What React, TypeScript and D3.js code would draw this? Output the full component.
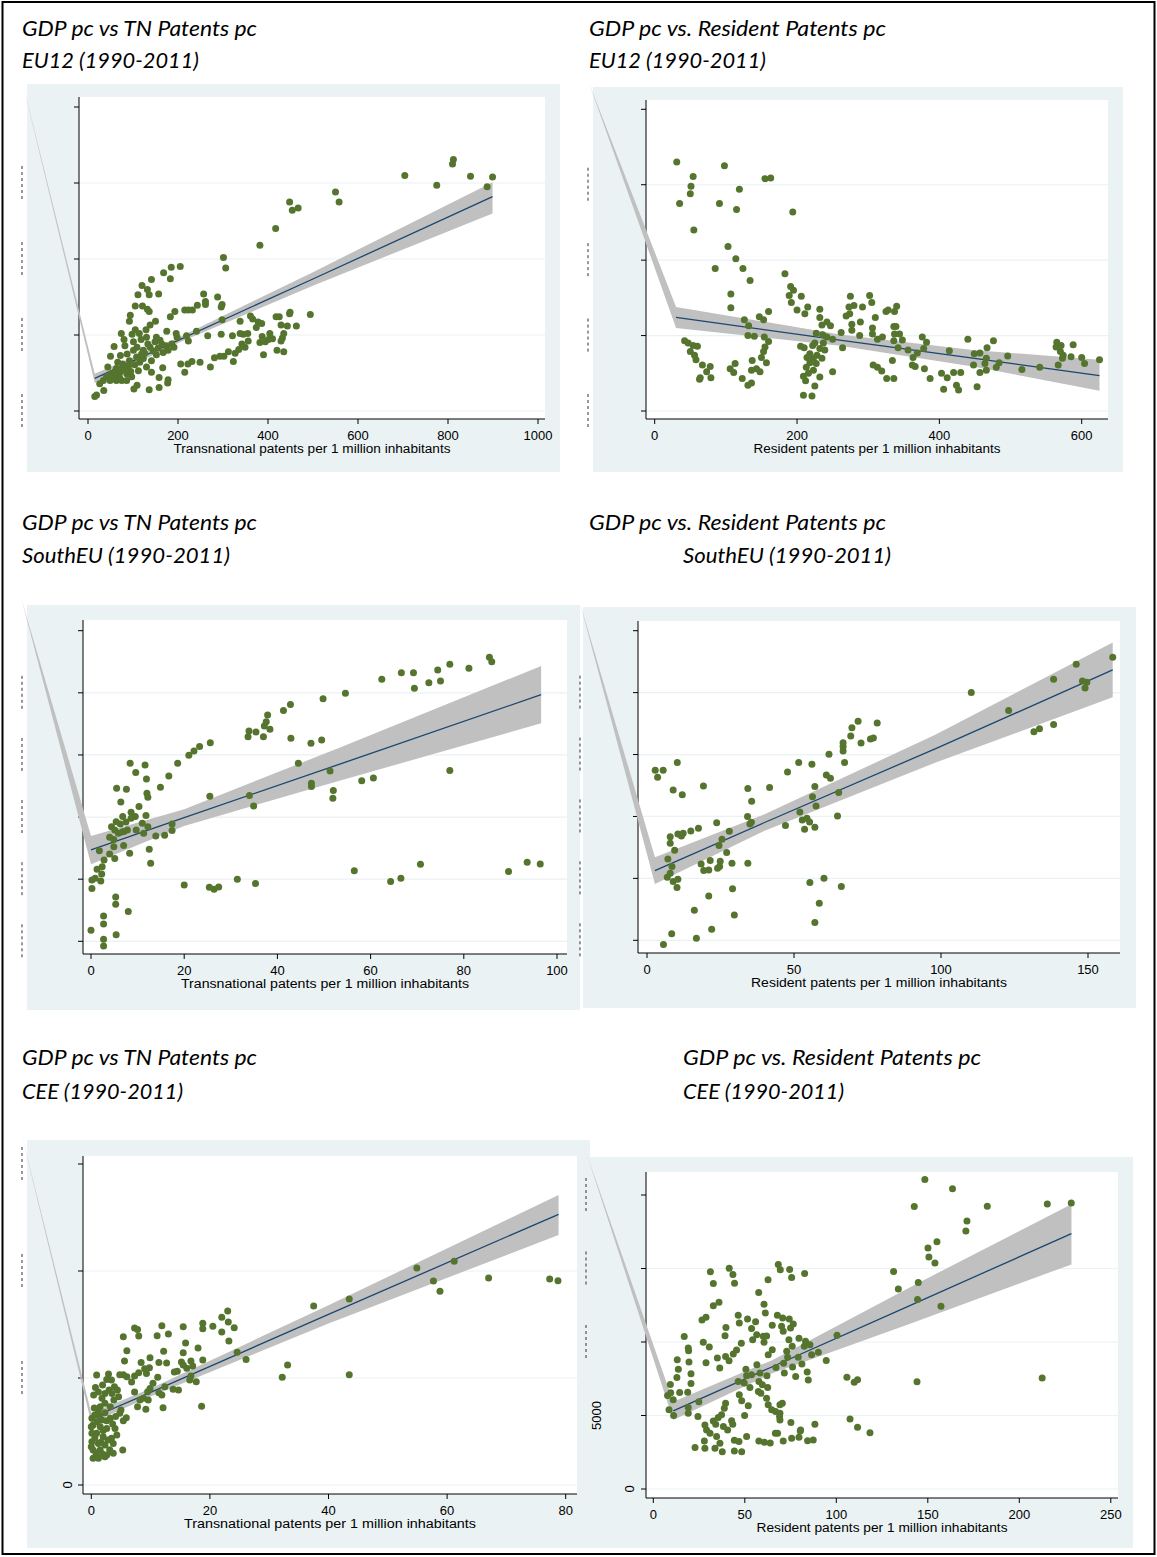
import * as d3 from "d3";

type Pt = [number, number];
// x, fitted value, lower 95% bound, upper 95% bound (GDP pc in thousands)
type FitRow = [number, number, number, number];

// ---------- text ----------
const chartTitles = [
  ["GDP pc vs TN Patents pc", "EU12 (1990-2011)"],
  ["GDP pc vs. Resident Patents pc", "EU12 (1990-2011)"],
  ["GDP pc vs TN Patents pc", "SouthEU (1990-2011)"],
  ["GDP pc vs. Resident Patents pc", "SouthEU (1990-2011)"],
  ["GDP pc vs TN Patents pc", "CEE (1990-2011)"],
  ["GDP pc vs. Resident Patents pc", "CEE (1990-2011)"],
];
const xTitleTn = "Transnational patents per 1 million inhabitants";
const xTitleRes = "Resident patents per 1 million inhabitants";

// ---------- ticks ----------
const eu12TnXTicks = [0, 200, 400, 600, 800, 1000];
const eu12ResXTicks = [0, 200, 400, 600];
const southTnXTicks = [0, 20, 40, 60, 80, 100];
const southResXTicks = [0, 50, 100, 150];
const ceeTnXTicks = [0, 20, 40, 60, 80];
const ceeResXTicks = [0, 50, 100, 150, 200, 250];
const eu12YTicks = [10, 20, 30, 40, 50];
const southYTicks = [10, 15, 20, 25, 30, 35];
const ceeTnYTicks = [0, 10, 20, 30];
const ceeResYTicks = [0, 5, 10, 15, 20];

// ---------- data: [patents pc, GDP pc (thousands)] ----------
const eu12TnPts: Pt[] = [
  [812, 43.1], [810, 42.5], [704, 41.0], [775, 39.7], [850, 40.9], [899, 40.8], [887, 39.5],
  [550, 38.8], [558, 37.5], [448, 37.5], [454, 36.4], [467, 36.7], [417, 34.0], [382, 31.8],
  [301, 30.2], [306, 28.8],
  [494, 22.7], [449, 23.0], [448, 22.8], [425, 22.4], [418, 22.4], [463, 21.2], [443, 21.2],
  [429, 21.3], [435, 20.2], [432, 19.6], [429, 19.2], [404, 20.2], [410, 19.5], [401, 19.4],
  [382, 19.0], [387, 19.8], [394, 19.1], [390, 17.4], [420, 18.0], [435, 17.8], [378, 21.7],
  [386, 21.5], [374, 21.0], [361, 22.5], [366, 22.1], [338, 21.8], [355, 20.2], [345, 20.1],
  [338, 20.2], [356, 19.2], [349, 18.4], [342, 18.8], [335, 18.1], [321, 19.9], [327, 17.6],
  [312, 17.8], [323, 16.5], [302, 17.2], [293, 17.2], [281, 17.0], [272, 15.8], [298, 22.0],
  [296, 20.1], [266, 19.9], [249, 16.4], [231, 16.5], [222, 16.2], [206, 16.2], [215, 15.1],
  [298, 24.0], [296, 23.7], [288, 25.0], [261, 24.4], [261, 24.0], [257, 25.4], [243, 23.9],
  [232, 23.3], [223, 23.3], [215, 23.3], [193, 23.1], [183, 22.4], [241, 20.5], [219, 19.9],
  [223, 19.2], [196, 20.2], [191, 18.4], [175, 20.5],
  [205, 29.0], [185, 28.9], [183, 27.4], [168, 28.2], [141, 27.3], [120, 26.5], [132, 26.0],
  [111, 25.3], [136, 25.3], [157, 25.4], [105, 23.8], [121, 23.8], [132, 23.4], [136, 23.1],
  [94, 22.6], [92, 21.8], [150, 21.8], [138, 21.3], [129, 20.7], [105, 20.7], [114, 20.2],
  [98, 20.1], [74, 20.2], [80, 19.4], [58, 18.5], [50, 17.2], [44, 15.8], [82, 18.6],
  [101, 19.1], [109, 18.4], [123, 18.0], [138, 18.4], [149, 19.1], [160, 19.3], [173, 18.6],
  [186, 18.8], [198, 19.7], [167, 17.7], [152, 17.4], [141, 16.6], [123, 16.9], [108, 17.1],
  [92, 16.6], [77, 16.2], [63, 15.6], [52, 14.9], [41, 14.5], [34, 14.0], [26, 13.6],
  [71, 15.1], [86, 14.9], [97, 14.5], [112, 15.3], [130, 15.8], [141, 15.1], [158, 14.4],
  [166, 15.7], [178, 14.1], [177, 13.7], [158, 13.1], [136, 12.8], [109, 13.4], [102, 12.9],
  [63, 14.0], [56, 14.5], [35, 12.7], [19, 12.1], [15, 11.9], [78, 15.6], [101, 18.0],
  [119, 17.5], [130, 19.7], [152, 19.7], [164, 18.8], [178, 18.0], [75, 14.0], [86, 14.0],
  [49, 14.0], [67, 14.7], [60, 15.2], [70, 14.4], [83, 15.4], [90, 15.9], [95, 15.2],
  [104, 16.1], [115, 16.4], [126, 17.6], [145, 17.9], [156, 18.3], [72, 17.3], [66, 16.4],
  [87, 17.5], [118, 19.4], [133, 18.8],
];

const eu12ResPts: Pt[] = [
  [31, 43.0], [98, 42.5], [54, 41.1], [51, 39.8], [50, 38.8], [35, 37.5], [91, 37.5],
  [115, 36.7], [119, 39.4], [155, 40.8], [163, 40.9], [194, 36.4], [55, 34.0], [103, 31.8],
  [114, 30.2], [85, 28.9], [124, 28.9], [134, 27.3], [183, 28.2], [191, 26.5], [195, 26.0],
  [189, 25.3], [206, 25.2], [192, 24.4], [200, 23.4], [211, 22.9], [215, 23.8], [107, 25.5],
  [107, 23.7], [126, 22.1], [132, 21.3], [131, 20.0], [140, 19.9], [147, 22.5], [153, 22.1],
  [160, 23.2], [154, 19.8], [160, 19.2], [155, 18.5], [153, 17.9], [150, 17.1], [157, 16.4],
  [137, 16.7], [143, 15.6], [148, 15.2], [136, 15.4], [113, 16.3], [106, 15.6], [111, 15.1],
  [123, 14.3], [131, 13.4], [136, 13.7], [42, 19.3], [47, 19.0], [54, 18.7], [60, 18.6],
  [50, 17.9], [56, 17.4], [58, 16.8], [67, 16.1], [78, 15.9], [73, 15.2], [64, 14.4],
  [79, 14.4], [63, 14.2], [232, 23.5], [232, 22.4], [235, 21.4], [242, 21.8], [247, 21.3],
  [227, 20.3], [236, 20.1], [242, 19.8], [250, 19.5], [225, 19.0], [237, 19.0], [222, 18.7],
  [205, 18.6], [210, 18.4], [232, 18.3], [239, 18.1], [218, 17.6], [228, 17.4], [214, 17.1],
  [223, 17.0], [235, 17.0], [218, 16.4], [227, 16.3], [213, 15.8], [223, 15.4], [216, 15.0],
  [209, 14.6], [212, 14.0], [232, 14.5], [250, 15.2], [225, 13.3], [209, 12.1], [221, 12.0],
  [264, 18.4], [262, 20.4], [269, 22.6], [274, 22.9], [273, 23.8], [280, 24.0], [275, 25.2],
  [292, 23.8], [302, 25.3], [305, 24.4], [289, 21.8], [277, 21.5], [277, 20.7], [288, 20.0],
  [306, 21.0], [306, 20.2], [313, 19.5], [320, 19.8], [310, 22.4], [325, 23.2], [328, 23.4],
  [337, 23.2], [340, 23.9], [336, 21.2], [339, 21.2], [337, 20.2], [344, 20.2], [348, 19.4],
  [336, 19.3], [342, 18.4], [356, 18.1], [369, 17.7], [363, 17.1], [362, 16.1], [366, 15.9],
  [379, 15.6], [387, 14.3], [376, 19.8], [382, 19.1], [378, 18.3], [307, 16.1], [313, 15.8],
  [319, 15.3], [326, 14.3], [336, 14.3], [334, 16.7], [414, 18.0], [403, 15.0], [406, 12.9],
  [411, 14.4], [420, 15.1], [430, 15.1], [424, 13.4], [427, 12.8], [440, 19.5], [449, 17.6],
  [457, 17.7], [467, 18.4], [476, 19.3], [466, 17.0], [464, 16.3], [466, 15.4], [448, 16.1],
  [457, 15.1], [453, 13.2], [484, 16.4], [480, 15.8], [496, 17.3], [516, 15.5], [541, 15.8],
  [565, 19.1], [564, 18.5], [571, 18.7], [570, 17.9], [574, 17.4], [573, 17.0], [567, 16.1],
  [585, 17.2], [588, 18.8], [600, 17.1], [604, 16.3], [625, 16.8],
];

const southTnPts: Pt[] = [
  [85.5, 32.86], [86.0, 32.51], [81.1, 31.97], [77.0, 32.29], [74.4, 31.84], [69.2, 31.62],
  [66.6, 31.62], [69.4, 30.36], [72.5, 30.82], [75.0, 30.95], [62.4, 31.09], [54.6, 29.96],
  [49.8, 29.53], [42.8, 29.05], [41.3, 28.57], [37.9, 28.22], [37.6, 27.68], [37.2, 27.33],
  [38.4, 27.06], [37.0, 26.47], [35.4, 26.85], [33.9, 26.93], [33.7, 26.47], [42.9, 26.34],
  [49.5, 26.21], [47.2, 25.94], [25.6, 25.99], [23.3, 25.67], [22.1, 25.32], [21.0, 24.97],
  [18.6, 24.33], [16.7, 23.31], [14.9, 22.4], [11.6, 24.19], [9.6, 23.58], [8.4, 24.33],
  [11.9, 23.07], [12.0, 21.91], [12.2, 21.59], [10.3, 20.84], [5.5, 22.32], [7.6, 22.24],
  [6.4, 21.22], [8.6, 20.39], [9.5, 20.04], [11.8, 20.12], [6.8, 20.04], [6.3, 19.45],
  [7.1, 18.83], [9.7, 18.96], [11.0, 19.5], [11.3, 18.7], [12.2, 19.23], [13.9, 18.48],
  [15.8, 18.54], [17.4, 18.91], [17.4, 19.45], [12.5, 17.41], [12.8, 16.28], [8.3, 17.09],
  [7.0, 17.71], [5.1, 18.96], [5.4, 19.63], [4.4, 19.23], [4.0, 18.37], [4.9, 17.62],
  [4.0, 17.03], [5.1, 16.66], [1.8, 17.28], [2.8, 16.55], [2.4, 16.01], [1.3, 15.8],
  [2.3, 15.42], [2.1, 14.86], [0.9, 15.07], [0.2, 14.94], [0.2, 14.24], [5.3, 13.57],
  [5.3, 12.98], [8.0, 12.39], [2.7, 12.04], [2.7, 11.4], [0.0, 10.89], [2.7, 10.17],
  [2.7, 9.63], [5.4, 10.52], [20.0, 14.54], [25.4, 14.35], [26.4, 14.19], [27.4, 14.38],
  [31.4, 15.0], [35.3, 14.65], [56.5, 15.67], [64.3, 14.81], [66.5, 15.08], [70.7, 16.2],
  [77.0, 23.74], [58.1, 22.93], [60.6, 23.15], [51.3, 23.71], [52.0, 22.13], [51.9, 21.51],
  [44.5, 24.33], [47.3, 22.72], [47.3, 22.45], [34.0, 21.73], [34.9, 20.9], [25.5, 21.67],
  [89.6, 15.61], [93.6, 16.36], [96.4, 16.23], [5.9, 18.7], [4.9, 18.2], [6.7, 18.8],
  [7.8, 18.96], [8.6, 19.9], [7.5, 19.6],
];

const southResPts: Pt[] = [
  [158.4, 32.85], [146.0, 32.29], [148.1, 30.94], [149.6, 30.83], [149.0, 30.38], [138.3, 31.08],
  [110.3, 30.0], [123.0, 28.55], [131.6, 26.85], [133.5, 27.09], [138.3, 27.42], [71.8, 27.68],
  [69.7, 27.17], [78.3, 27.55], [69.3, 26.5], [72.8, 25.94], [76.0, 26.26], [77.0, 26.34],
  [66.7, 25.96], [66.7, 25.64], [66.7, 25.29], [61.9, 25.02], [67.2, 24.35], [56.1, 24.21],
  [51.6, 24.35], [47.8, 23.59], [61.0, 23.35], [62.4, 23.08], [57.1, 22.41], [65.2, 21.93],
  [56.3, 21.6], [57.5, 20.85], [52.0, 20.37], [52.8, 19.72], [54.4, 19.85], [55.3, 19.56],
  [53.6, 18.97], [57.1, 19.13], [64.8, 20.04], [47.1, 19.26], [41.7, 22.33], [34.3, 22.25],
  [35.6, 21.23], [34.2, 19.99], [35.5, 19.53], [35.0, 19.4], [23.7, 19.5], [28.0, 18.8],
  [25.5, 18.16], [24.5, 17.65], [27.1, 17.08], [28.9, 16.22], [24.9, 16.38], [24.7, 15.95],
  [24.0, 15.82], [21.5, 16.44], [21.0, 15.68], [19.3, 15.63], [18.4, 16.17], [17.5, 19.05],
  [14.9, 18.83], [12.3, 18.64], [11.7, 18.43], [10.5, 18.59], [7.9, 18.37], [7.9, 17.84],
  [9.4, 17.27], [7.1, 16.57], [8.5, 15.95], [7.9, 15.41], [6.9, 15.09], [8.9, 14.74],
  [10.5, 14.93], [10.2, 14.26], [2.8, 23.73], [5.5, 23.73], [3.6, 23.16], [10.3, 24.35],
  [8.9, 22.14], [12.0, 21.76], [19.2, 22.46], [34.3, 16.22], [21.0, 13.58], [29.1, 14.17],
  [16.1, 12.43], [29.7, 12.05], [22.0, 10.89], [8.4, 10.52], [16.8, 10.17], [5.6, 9.66],
  [55.4, 14.66], [60.2, 15.01], [66.1, 14.34], [58.6, 12.99], [57.1, 11.43],
];

const ceeTnPts: Pt[] = [
  [77.3, 19.25], [78.7, 19.09], [67.0, 19.34], [61.2, 20.9], [54.9, 20.28], [57.7, 19.06],
  [58.8, 18.1], [43.5, 17.38], [37.5, 16.73], [43.5, 10.31], [33.1, 11.21], [32.2, 10.06],
  [26.1, 11.74], [24.6, 12.4], [18.6, 7.35],
  [23.0, 16.26], [22.0, 15.67], [23.1, 15.23], [24.1, 14.7], [22.0, 14.3], [23.2, 13.45],
  [20.5, 14.83], [18.8, 15.11], [18.8, 14.61], [15.5, 14.79], [11.9, 14.89], [13.0, 14.11],
  [11.1, 13.95], [8.0, 13.92], [7.3, 14.67], [7.8, 14.54], [5.4, 13.86], [15.9, 13.27],
  [18.0, 12.8], [15.5, 12.36], [12.2, 12.49], [6.0, 12.55], [9.9, 11.9], [11.4, 11.46],
  [12.7, 11.4], [18.8, 11.68], [15.2, 11.49], [15.5, 11.21], [16.8, 11.59], [17.1, 11.12],
  [16.1, 10.9], [8.4, 11.46], [5.6, 11.59], [9.0, 10.87], [14.0, 10.56], [14.5, 10.62],
  [16.8, 10.18], [17.7, 9.65], [16.6, 9.81], [9.8, 10.96], [9.3, 10.43], [8.0, 10.5],
  [7.3, 10.18], [6.8, 9.62], [6.0, 10.12], [5.4, 10.31], [4.8, 10.31], [11.2, 10.06],
  [10.4, 9.5], [12.4, 9.19], [14.7, 8.88], [13.8, 8.94], [9.9, 9.03], [9.5, 8.72],
  [11.4, 8.63], [11.9, 8.41], [7.3, 8.69], [8.2, 7.94], [8.8, 8.1], [9.6, 7.94], [7.8, 7.32],
  [9.2, 7.07], [12.1, 7.22], [5.0, 7.01], [5.4, 6.01], [5.9, 6.29], [5.3, 3.27],
  [2.9, 10.37], [0.9, 10.28], [0.7, 9.12], [1.9, 9.34], [2.6, 9.87], [3.4, 9.81], [3.9, 9.19],
  [4.4, 8.88], [3.5, 8.56], [3.0, 8.88], [2.3, 8.56], [3.8, 7.94], [4.6, 8.25], [3.2, 7.32],
  [2.3, 7.63], [1.5, 7.32], [1.2, 7.01], [2.3, 6.76], [3.2, 6.23], [1.8, 6.07], [0.6, 6.54],
  [0.1, 6.23], [0.3, 5.61], [1.5, 5.45], [2.6, 5.29], [4.0, 5.29], [4.3, 4.67], [3.4, 4.36],
  [2.0, 4.51], [0.9, 4.83], [0.1, 4.83], [0.1, 4.05], [1.2, 3.89], [2.3, 3.74], [3.7, 3.89],
  [3.7, 2.96], [2.6, 2.8], [1.5, 3.27], [0.3, 3.27], [0.3, 2.49], [1.2, 2.49], [2.3, 2.65],
  [0.0, 3.58], [0.0, 5.45], [4.8, 6.7], [1.8, 8.1], [0.5, 7.2], [1.0, 5.9], [2.0, 5.1],
  [0.6, 4.4], [1.6, 4.0], [2.8, 4.2], [0.8, 3.0], [1.9, 2.9], [3.1, 3.3], [1.4, 6.5],
  [2.6, 6.0], [3.6, 5.7], [0.4, 8.4], [1.2, 8.7], [4.1, 6.4],
];

const ceeResPts: Pt[] = [
  [148.4, 21.05], [163.5, 20.42], [142.6, 19.21], [182.5, 19.23], [215.3, 19.39], [228.4, 19.46],
  [171.4, 18.23], [170.8, 17.55], [155.0, 16.82], [150.1, 16.39], [150.6, 15.78], [153.9, 15.37],
  [131.3, 14.8], [144.8, 14.05], [133.9, 13.6], [144.4, 12.89], [157.2, 12.44], [100.4, 10.46],
  [94.5, 8.75], [105.8, 7.61], [109.8, 7.27], [111.6, 7.43], [144.1, 7.3], [212.5, 7.55],
  [107.5, 4.77], [111.6, 4.2], [118.4, 3.82],
  [31.2, 14.78], [41.5, 15.01], [43.5, 14.6], [32.8, 13.98], [44.4, 14.0], [68.3, 15.28],
  [69.4, 14.91], [74.5, 14.94], [75.6, 14.39], [82.7, 14.66], [62.7, 14.23], [57.6, 13.37],
  [60.5, 12.57], [61.2, 11.98], [35.9, 12.71], [32.8, 12.46], [28.8, 11.68], [26.6, 11.5],
  [39.7, 10.98], [39.2, 10.43], [46.4, 11.82], [47.0, 11.3], [51.5, 11.57], [55.9, 11.37],
  [53.7, 10.91], [56.5, 10.5], [54.3, 10.16], [60.1, 10.39], [60.5, 9.98], [61.9, 10.41],
  [67.8, 11.82], [70.7, 11.64], [74.3, 11.57], [76.5, 11.23], [65.0, 11.14], [70.1, 11.07],
  [71.0, 10.73], [75.0, 10.96], [79.6, 10.25], [74.1, 10.16], [83.2, 10.05], [85.6, 9.82],
  [82.5, 9.71], [86.5, 9.14], [90.2, 9.3], [75.9, 9.71], [72.9, 9.37], [73.4, 8.96],
  [79.2, 8.96], [81.2, 8.5], [76.1, 8.3], [71.2, 8.55], [67.0, 8.27], [71.6, 7.89],
  [77.8, 7.66], [84.1, 7.96], [84.7, 7.41], [65.0, 9.48], [62.8, 9.14], [48.1, 9.91],
  [45.5, 9.46], [43.7, 9.18], [41.4, 8.73], [39.5, 9.02], [35.0, 8.91], [36.3, 8.23],
  [28.8, 8.59], [27.3, 9.98], [30.6, 9.66], [16.9, 10.37], [19.1, 9.59], [19.3, 9.41],
  [13.1, 8.8], [13.7, 8.14], [19.5, 8.64], [20.6, 7.84], [12.9, 7.59], [20.6, 7.18],
  [9.3, 7.11], [18.8, 6.59], [14.4, 6.57], [9.5, 6.55], [7.8, 6.36], [10.9, 6.07], [8.6, 5.39],
  [11.1, 5.0], [19.1, 5.55], [19.1, 5.16], [24.9, 5.93], [24.4, 4.93], [56.6, 8.46],
  [50.6, 8.14], [53.7, 7.77], [58.3, 7.89], [62.1, 7.71], [51.0, 7.71], [46.4, 7.32],
  [49.7, 7.21], [52.8, 6.91], [57.7, 7.32], [59.6, 7.09], [62.5, 6.91], [57.4, 6.64],
  [58.8, 6.52], [47.0, 6.41], [48.3, 6.0], [51.9, 5.66], [49.9, 5.0], [61.9, 6.18],
  [62.8, 5.73], [64.7, 5.39], [66.8, 5.27], [69.2, 5.73], [70.5, 5.84], [69.0, 4.93],
  [69.2, 4.7], [75.2, 4.52], [80.5, 4.02], [88.3, 4.41], [39.5, 5.84], [38.8, 5.5],
  [37.3, 5.05], [35.5, 4.86], [32.8, 4.63], [34.1, 4.41], [42.8, 4.64], [43.4, 4.41],
  [38.3, 4.25], [40.6, 4.02], [28.2, 4.36], [29.1, 4.02], [31.0, 3.79], [34.6, 3.57],
  [36.4, 3.11], [33.7, 2.77], [37.7, 2.54], [27.9, 3.27], [28.2, 2.77], [22.8, 2.82],
  [44.3, 3.32], [46.8, 3.23], [44.3, 2.59], [48.3, 2.54], [51.0, 3.57], [57.7, 3.27],
  [60.7, 3.18], [63.9, 3.13], [66.7, 3.79], [67.9, 3.79], [71.0, 3.27], [75.6, 3.45],
  [80.3, 3.95], [79.6, 3.52], [84.3, 3.29], [87.4, 3.34], [69.2, 5.16],
];

// ---------- linear fit with 95% CI ----------
const eu12TnFit: FitRow[] = [[15, 14.3, 13.7, 14.9], [204, 19.4, 19.05, 19.75], [501, 27.4, 26.5, 28.3], [899, 38.2, 36.0, 40.1]];
const eu12ResFit: FitRow[] = [[30, 22.4, 21.0, 23.8], [260, 19.4, 18.65, 20.15], [447, 17.0, 15.9, 18.1], [625, 14.7, 12.7, 16.8]];
const southTnFit: FitRow[] = [[0, 17.35, 16.2, 18.48], [20, 19.96, 19.29, 20.63], [53.7, 24.3, 22.96, 25.64], [96.6, 29.85, 27.55, 32.16]];
const southResFit: FitRow[] = [[2.7, 15.63, 14.55, 16.71], [39.8, 19.49, 18.82, 20.16], [98.2, 25.48, 24.35, 26.61], [158.4, 31.83, 29.62, 34.04]];
const ceeTnFit: FitRow[] = [[0, 6.26, 5.8, 6.73], [10, 8.65, 8.28, 9.02], [40, 15.95, 15.1, 16.8], [78.8, 25.3, 23.36, 27.1]];
const ceeResFit: FitRow[] = [[10.9, 5.32, 4.7, 5.94], [64.7, 8.3, 7.85, 8.75], [141.1, 12.53, 11.28, 13.78], [228.5, 17.37, 15.28, 19.37]];

// ---------- layout (pixels) ----------
const panels = [
  {
    pts: eu12TnPts, fit: eu12TnFit, xTicks: eu12TnXTicks, yTicks: eu12YTicks, xTitle: xTitleTn, titles: chartTitles[0],
    bg: [27, 84, 533, 388], plot: [79, 97, 545, 419], xr: [88, 538], yr: [411, 107],
    apex: [22, 80], dashX: 22, hidden: [10, 20, 30, 40], shown: [] as [number, number][],
    t1: [22, 36, 235], t2: [22, 68, 177], xTitleW: 277,
  },
  {
    pts: eu12ResPts, fit: eu12ResFit, xTicks: eu12ResXTicks, yTicks: eu12YTicks, xTitle: xTitleRes, titles: chartTitles[1],
    bg: [593, 87, 530, 385], plot: [646, 100, 1108, 419], xr: [654.7, 1081.7], yr: [411, 109.3],
    apex: [589, 83], dashX: 588, hidden: [10, 20, 30, 40], shown: [] as [number, number][],
    t1: [589, 36, 297], t2: [589, 68, 177], xTitleW: 247,
  },
  {
    pts: southTnPts, fit: southTnFit, xTicks: southTnXTicks, yTicks: southYTicks, xTitle: xTitleTn, titles: chartTitles[2],
    bg: [27, 605, 553, 405], plot: [83, 620, 567, 954], xr: [91, 557], yr: [941.3, 630.7],
    apex: [22, 601], dashX: 22, hidden: [10, 15, 20, 25, 30], shown: [] as [number, number][],
    t1: [22, 530, 235], t2: [22, 563, 208], xTitleW: 288,
  },
  {
    pts: southResPts, fit: southResFit, xTicks: southResXTicks, yTicks: southYTicks, xTitle: xTitleRes, titles: chartTitles[3],
    bg: [583, 607, 553, 401], plot: [638, 621, 1120, 953], xr: [647, 1088], yr: [940.3, 630.7],
    apex: [580, 603], dashX: 580, hidden: [10, 15, 20, 25, 30], shown: [] as [number, number][],
    t1: [589, 530, 297], t2: [683, 563, 208], xTitleW: 256,
  },
  {
    pts: ceeTnPts, fit: ceeTnFit, xTicks: ceeTnXTicks, yTicks: ceeTnYTicks, xTitle: xTitleTn, titles: chartTitles[4],
    bg: [27, 1140, 563, 408], plot: [83, 1156, 577, 1494], xr: [91.3, 565.7], yr: [1485, 1164],
    apex: [22, 1136], dashX: 22, hidden: [10, 20, 30], shown: [[0, 71.5]] as [number, number][],
    t1: [22, 1065, 235], t2: [22, 1099, 161], xTitleW: 292,
  },
  {
    pts: ceeResPts, fit: ceeResFit, xTicks: ceeResXTicks, yTicks: ceeResYTicks, xTitle: xTitleRes, titles: chartTitles[5],
    bg: [590, 1157, 543, 391], plot: [646, 1172, 1118, 1498], xr: [653.3, 1110.8], yr: [1489, 1195],
    apex: [587, 1155], dashX: 586, hidden: [10, 15, 20], shown: [[0, 633.5], [5, 600.5]] as [number, number][],
    t1: [683, 1065, 298], t2: [683, 1099, 161], xTitleW: 251,
  },
];

const BG = "#eaf2f3";
const DOT = "#55752f";
const LINE = "#1a476f";
const BAND = "#c0c0c0";
const AXIS_FONT = "'Liberation Sans', Arial, sans-serif";
const TITLE_FONT = "Lato, 'Open Sans', sans-serif";

function Panel({ p }: { p: (typeof panels)[number] }) {
  const xs = p.xTicks;
  const ys = p.yTicks;
  const x = d3.scaleLinear().domain([xs[0], xs[xs.length - 1]]).range(p.xr);
  const y = d3.scaleLinear().domain([ys[0], ys[ys.length - 1]]).range(p.yr);
  const [l, t, r, b] = p.plot;

  const upper = p.fit.map((d) => [x(d[0]), y(d[3])] as [number, number]);
  const lower = p.fit.map((d) => [x(d[0]), y(d[2])] as [number, number]).reverse();
  const band = d3.line()([p.apex as [number, number], ...upper, ...lower]) + "Z";
  const fitLine = d3.line()(p.fit.map((d) => [x(d[0]), y(d[1])] as [number, number]));

  return (
    <g>
      <text x={p.t1[0]} y={p.t1[1]} textLength={p.t1[2]} lengthAdjust="spacingAndGlyphs"
        fontFamily={TITLE_FONT} fontStyle="italic" fontSize={21} fill="#000">{p.titles[0]}</text>
      <text x={p.t2[0]} y={p.t2[1]} textLength={p.t2[2]} lengthAdjust="spacingAndGlyphs"
        fontFamily={TITLE_FONT} fontStyle="italic" fontSize={21} fill="#000">{p.titles[1]}</text>

      <rect x={p.bg[0]} y={p.bg[1]} width={p.bg[2]} height={p.bg[3]} fill={BG} />
      <rect x={l} y={t} width={r - l} height={b - t} fill="#fff" />

      {ys.slice(0, -1).map((v) => (
        <line key={"g" + v} x1={l} x2={r} y1={y(v)} y2={y(v)} stroke={BG} strokeWidth={1.2} />
      ))}

      <line x1={l} x2={l} y1={t} y2={b} stroke="#000" strokeWidth={1} />
      <line x1={l} x2={r} y1={b} y2={b} stroke="#000" strokeWidth={1} />
      {ys.map((v) => (
        <line key={"yt" + v} x1={l - 5} x2={l} y1={y(v)} y2={y(v)} stroke="#000" strokeWidth={1} />
      ))}
      {xs.map((v) => (
        <g key={"xt" + v}>
          <line x1={x(v)} x2={x(v)} y1={b} y2={b + 5} stroke="#000" strokeWidth={1} />
          <text x={x(v)} y={b + 21} textAnchor="middle" fontFamily={AXIS_FONT} fontSize={13} fill="#000">{v}</text>
        </g>
      ))}
      <text x={(l + r) / 2} y={b + 34} textAnchor="middle" textLength={p.xTitleW} lengthAdjust="spacingAndGlyphs"
        fontFamily={AXIS_FONT} fontSize={12.5} fill="#000">{p.xTitle}</text>

      {/* y labels: most are cut off in the source, only a dashed sliver remains */}
      {p.hidden.map((v) => (
        <line key={"h" + v} x1={p.dashX} x2={p.dashX} y1={y(v) - 17} y2={y(v) + 17}
          stroke="#333" strokeWidth={1} strokeDasharray="3,3" />
      ))}
      {p.shown.map(([v, px]) => (
        <text key={"s" + v} transform={`translate(${px},${y(v)}) rotate(-90)`} textAnchor="middle"
          fontFamily={AXIS_FONT} fontSize={13} fill="#000">{v * 1000}</text>
      ))}

      <path d={band} fill={BAND} />
      <path d={fitLine ?? ""} fill="none" stroke={LINE} strokeWidth={1.3} />
      {p.pts.map((d, i) => (
        <circle key={i} cx={x(d[0])} cy={y(d[1])} r={3.5} fill={DOT} />
      ))}
    </g>
  );
}

export default function App() {
  return (
    <svg width={1157} height={1557} style={{ position: "absolute", left: 0, top: 0, background: "#fff" }}>
      <rect x={0} y={0} width={1157} height={1557} fill="#fff" />
      {panels.map((p, i) => (
        <Panel key={i} p={p} />
      ))}
      <rect x={2.5} y={2} width={1152} height={1552} fill="none" stroke="#000" strokeWidth={2} />
    </svg>
  );
}
